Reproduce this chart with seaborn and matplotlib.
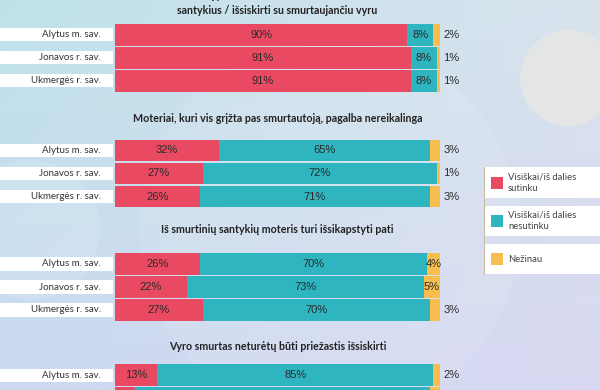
import numpy as np
import pandas as pd
import matplotlib
matplotlib.use("Agg")
import matplotlib.pyplot as plt
from matplotlib.patches import Rectangle, Circle
import seaborn as sns

# ---------------- data ----------------
regions = ["Alytus m. sav.", "Jonavos r. sav.", "Ukmergės r. sav."]
titles = [
    "Nereikėtų patarti moteriai nutraukti smurtinius\nsantykius / išsiskirti su smurtaujančiu vyru",
    "Moteriai, kuri vis grįžta pas smurtautoją, pagalba nereikalinga",
    "Iš smurtinių santykių moteris turi išsikapstyti pati",
    "Vyro smurtas neturėtų būti priežastis išsiskirti",
]
agree = [[90, 91, 91], [32, 27, 26], [26, 22, 27], [13, 6, 10]]
disagree = [[8, 8, 8], [65, 72, 71], [70, 73, 70], [85, 91, 87]]
unknown = [[2, 1, 1], [3, 1, 3], [4, 5, 3], [2, 3, 3]]
legend_labels = ["Visiškai/iš dalies\nsutinku", "Visiškai/iš dalies\nnesutinku", "Nežinau"]

# ---------------- style ----------------
RED, TEAL, YEL = "#E94A61", "#2EB5C0", "#F7BD4F"
TXT = "#2a2a2a"
PCT_FONT = ["Liberation Sans", "DejaVu Sans"]
sns.set_theme(style="white")
plt.rcParams["font.family"] = ["Lato", "DejaVu Sans"]

W, H = 600, 390
fig = plt.figure(figsize=(6, 3.9), dpi=100)

# background gradient
bg = fig.add_axes([0, 0, 1, 1], zorder=0)
yy, xx = np.mgrid[0:1:H * 1j, 0:1:W * 1j]
c00 = np.array([0.75, 0.89, 0.92])
c01 = np.array([0.85, 0.89, 0.93])
c10 = np.array([0.80, 0.85, 0.94])
c11 = np.array([0.85, 0.85, 0.95])
img = (c00 * ((1 - xx) * (1 - yy))[..., None] + c01 * (xx * (1 - yy))[..., None]
       + c10 * ((1 - xx) * yy)[..., None] + c11 * (xx * yy)[..., None])
bg.imshow(img, extent=[0, W, H, 0], aspect="auto")
bg.add_patch(Circle((330, 230), 190, color="white", alpha=0.10, lw=0))
bg.add_patch(Circle((568, 78), 48, color="#E8E8E4", alpha=0.8, lw=0))
bg.add_patch(Circle((30, 230), 70, color="white", alpha=0.12, lw=0))
bg.set_xlim(0, W)
bg.set_ylim(H, 0)
bg.axis("off")

# legend (custom boxes)
leg_boxes = [(167, 198), (206, 236), (244, 274)]
leg_colors = [RED, TEAL, YEL]
for (y0, y1), col, lab in zip(leg_boxes, leg_colors, legend_labels):
    bg.add_patch(Rectangle((484, y0), 120, y1 - y0, color="white", lw=0))
    ym = (y0 + y1) / 2
    bg.add_patch(Rectangle((491, ym - 6), 12, 12, color=col, lw=0))
    bg.text(508, ym, lab, fontsize=6.8, color="#444444", va="center", ha="left",
            linespacing=1.3)
bg.plot([484, 484], [167, 274], color="#C9BBA0", lw=0.8)

# bar groups: first-row centre in px, row pitch in px
first_centres = [34.7, 150.5, 264.0, 375.3]
pitch = 23.0
title_off = [-1.38, -1.37, -1.52, -1.27]
x0_px, x1_px = 115, 440

for g in range(4):
    top = first_centres[g] - pitch / 2
    hgt = 3 * pitch
    ax = fig.add_axes([x0_px / W, 1 - (top + hgt) / H, (x1_px - x0_px) / W, hgt / H], zorder=2)
    ax.set_facecolor("none")
    a = np.array(agree[g]); d = np.array(disagree[g]); u = np.array(unknown[g])
    df = pd.DataFrame({"region": regions, "total": a + d + u, "ad": a + d, "a": a})
    for col, c in [("total", YEL), ("ad", TEAL), ("a", RED)]:
        sns.barplot(data=df, x=col, y="region", orient="h", color=c, saturation=1,
                    width=0.94, ax=ax, errorbar=None, linewidth=0)
    ax.set_xlim(0, 100)
    ax.set_ylim(2.5, -0.5)
    ax.axis("off")
    for i in range(3):
        # rows whose centre falls below the canvas are only partially visible (no text)
        if first_centres[g] + i * pitch > H - 4:
            continue
        ax.text(a[i] / 2, i, f"{a[i]}%", ha="center", va="center", fontsize=8,
                color=TXT, family=PCT_FONT)
        ax.text(a[i] + d[i] / 2, i, f"{d[i]}%", ha="center", va="center", fontsize=8,
                color=TXT, family=PCT_FONT)
        if u[i] >= 4:
            ax.text(a[i] + d[i] + u[i] / 2, i, f"{u[i]}%", ha="center", va="center",
                    fontsize=8, color=TXT, family=PCT_FONT, clip_on=False)
        else:
            ax.text(101.1, i, f"{u[i]}%", ha="left", va="center", fontsize=8,
                    color=TXT, family=PCT_FONT, clip_on=False)
        # white label box
        ax.add_patch(Rectangle((-35.5, i - 0.29), 35.0, 0.58, color="white", lw=0,
                               clip_on=False))
        ax.text(-4.4, i, regions[i], ha="right", va="center", fontsize=7,
                color="#333333", clip_on=False)
    ax.text(50, title_off[g], titles[g], ha="center", va="center", fontsize=7.7,
            fontweight="bold", color="#222222", linespacing=1.5 if g == 0 else 1.2,
            clip_on=False)

fig.savefig("out.png", dpi=100)
